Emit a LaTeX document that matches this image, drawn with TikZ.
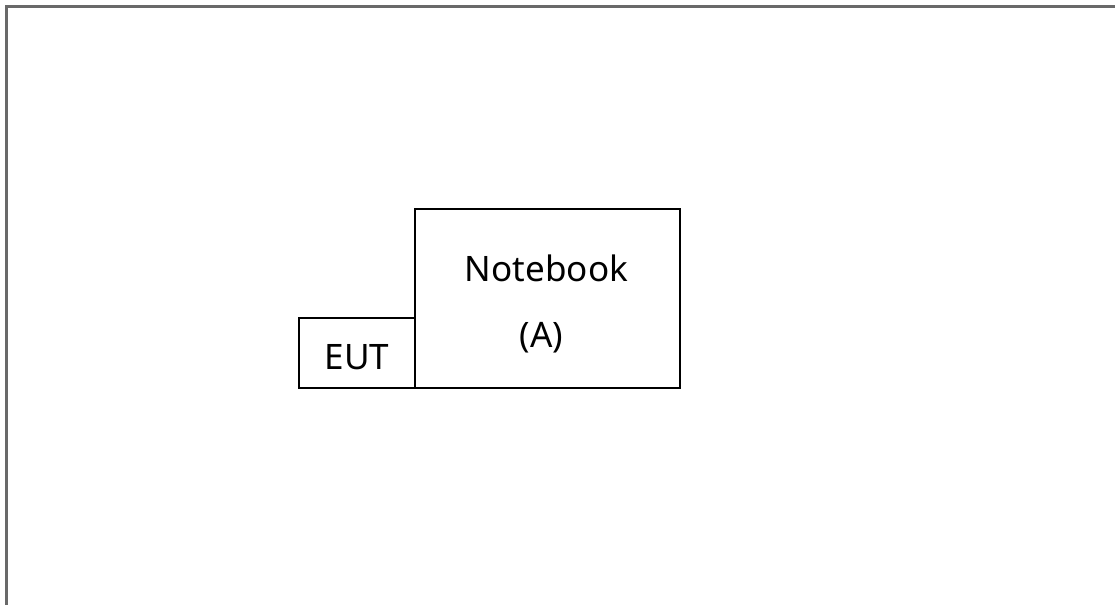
\documentclass[tikz,border=0pt]{standalone}
\usepackage{fontspec}
\setmainfont{Noto Sans}
\begin{document}
\begin{tikzpicture}[x=0.75pt,y=-0.75pt,
  box/.style={draw=black,line width=1pt},
  lbl/.style={font=\fontsize{26.3}{30}\selectfont,inner sep=0pt,anchor=base}]
\useasboundingbox (0,0) rectangle (1115,605);
\begin{scope}
\clip (0,0) rectangle (1115,605);
\draw[draw={rgb,255:red,105;green,105;blue,105},line width=1.6pt] (6.5,6.5) rectangle (1130,620);
\end{scope}
\draw[box] (299,318) rectangle (415,388);
\draw[box] (415,209) rectangle (680,388);
\node[lbl] (eut) at (357,370) {EUT};
\node[lbl] (nb) at (546.5,282) {Notebook};
\node[lbl] (a) at (541.5,348) {(A)};
\end{tikzpicture}
\end{document}
